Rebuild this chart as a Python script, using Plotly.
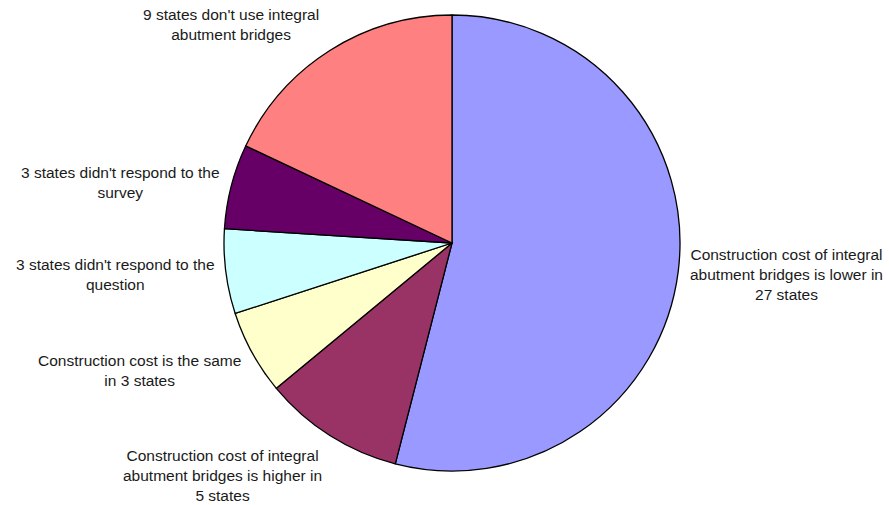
import plotly.graph_objects as go

labels = [
    "Construction cost of integral<br>abutment bridges is lower in<br>27 states",
    "Construction cost of integral<br>abutment bridges is higher in<br>5 states",
    "Construction cost is the same<br>in 3 states",
    "3 states didn't respond to the<br>question",
    "3 states didn't respond to the<br>survey",
    "9 states don't use integral<br>abutment bridges",
]
values = [27, 5, 3, 3, 3, 9]
colors = ["#9999FF", "#993366", "#FFFFCC", "#CCFFFF", "#660066", "#FF8080"]

# label block centres (pixels in the 889x505 frame)
label_pos = [(786, 274), (222, 475), (139, 370), (115, 274), (120, 182), (231, 24)]

W, H = 889, 505
cx, cy, r = 452, 243, 228

fig = go.Figure(go.Pie(
    labels=labels,
    values=values,
    sort=False,
    direction="clockwise",
    rotation=0,
    marker=dict(colors=colors, line=dict(color="#000000", width=1.3)),
    textinfo="none",
    hoverinfo="label+value",
    showlegend=False,
    domain=dict(x=[(cx - r) / W, (cx + r) / W], y=[(H - cy - r) / H, (H - cy + r) / H]),
))

for lab, (px, py) in zip(labels, label_pos):
    fig.add_annotation(
        x=px / W, y=1 - py / H, xref="paper", yref="paper",
        text=lab, showarrow=False, align="center",
        xanchor="center", yanchor="middle",
        font=dict(family="Liberation Sans, Arial, sans-serif", size=15.5, color="#1a1a1a"),
    )

fig.update_layout(
    width=W, height=H,
    margin=dict(l=0, r=0, t=0, b=0),
    paper_bgcolor="white",
    plot_bgcolor="white",
)

fig.write_html(
    "out.html",
    config={"displayModeBar": False},
    post_script="document.body.style.margin='0';document.body.style.overflow='hidden';",
)
